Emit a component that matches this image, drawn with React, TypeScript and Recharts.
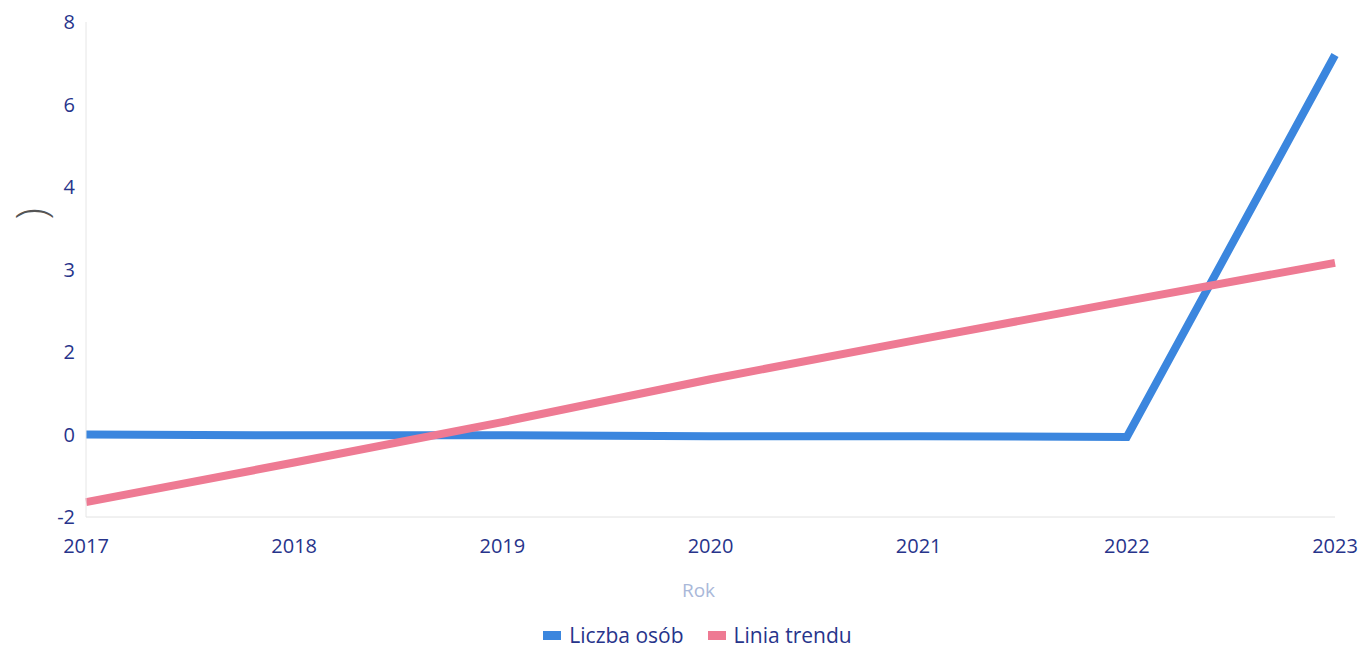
import React from "react";
import { LineChart, Line, XAxis, YAxis, Legend } from "recharts";

// Category labels (years)
const years = ["2017", "2018", "2019", "2020", "2021", "2022", "2023"];
// Y tick labels exactly as printed (evenly spaced on the axis)
const yTickLabels = ["-2", "0", "2", "3", "4", "6", "8"];
const yTickPositions = [0, 1, 2, 3, 4, 5, 6];
// Series values, expressed in axis tick-position units (tick i shows yTickLabels[i])
const liczbaOsob = [1.0, 0.99, 0.99, 0.98, 0.98, 0.97, 5.6];
const liniaTrendu = [0.18, 0.66, 1.15, 1.67, 2.15, 2.62, 3.08];

const data = years.map((y, i) => ({ rok: y, liczba: liczbaOsob[i], trend: liniaTrendu[i] }));

const BLUE = "#3B86DE";
const PINK = "#EE7A93";
const TEXT = "#27348B";
const FONT = "'Open Sans', 'Noto Sans', sans-serif";

const LegendContent = (props: any) => {
  const items = props.payload || [];
  return (
    <div style={{ display: "flex", justifyContent: "center", gap: 24, paddingTop: 14, paddingLeft: 60, fontFamily: FONT, fontSize: 21, color: TEXT }}>
      {items.map((it: any) => (
        <div key={it.value} style={{ display: "flex", alignItems: "center" }}>
          <span style={{ display: "inline-block", width: 18, height: 9, background: it.color, marginRight: 8 }} />
          <span>{it.value}</span>
        </div>
      ))}
    </div>
  );
};

export default function App() {
  return (
    <div style={{ position: "absolute", left: 0, top: 0, width: 1363, height: 647, background: "#fff" }}>
      <LineChart width={1363} height={647} data={data} margin={{ top: 22, right: 28, bottom: 0, left: 0 }}>
        <XAxis
          dataKey="rok"
          axisLine={{ stroke: "#e2e2e2" }}
          tickLine={false}
          tick={{ fill: TEXT, fontSize: 20, fontFamily: FONT }}
          tickMargin={16}
          height={90}
          label={{ value: "Rok", position: "insideTop", dx: -12, dy: 62, fill: "#A9B8D9", fontSize: 19, fontFamily: FONT }}
        />
        <YAxis
          type="number"
          domain={[0, 6]}
          ticks={yTickPositions}
          tickFormatter={(v: number) => yTickLabels[v]}
          width={86}
          axisLine={{ stroke: "#e6e6e6" }}
          tickLine={false}
          tickMargin={5}
          tick={{ fill: TEXT, fontSize: 20, fontFamily: FONT }}
          label={{ value: ")", angle: -90, position: "insideLeft", dx: 26, dy: -50, fill: "#555", fontSize: 42, fontWeight: 300, fontFamily: FONT }}
        />
        <Legend verticalAlign="bottom" height={40} content={<LegendContent />} />
        <Line
          type="linear"
          dataKey="liczba"
          name="Liczba osób"
          stroke={BLUE}
          strokeWidth={8}
          dot={false}
          activeDot={false}
          isAnimationActive={false}
        />
        <Line
          type="linear"
          dataKey="trend"
          name="Linia trendu"
          stroke={PINK}
          strokeWidth={8}
          dot={false}
          activeDot={false}
          isAnimationActive={false}
        />
      </LineChart>
    </div>
  );
}
